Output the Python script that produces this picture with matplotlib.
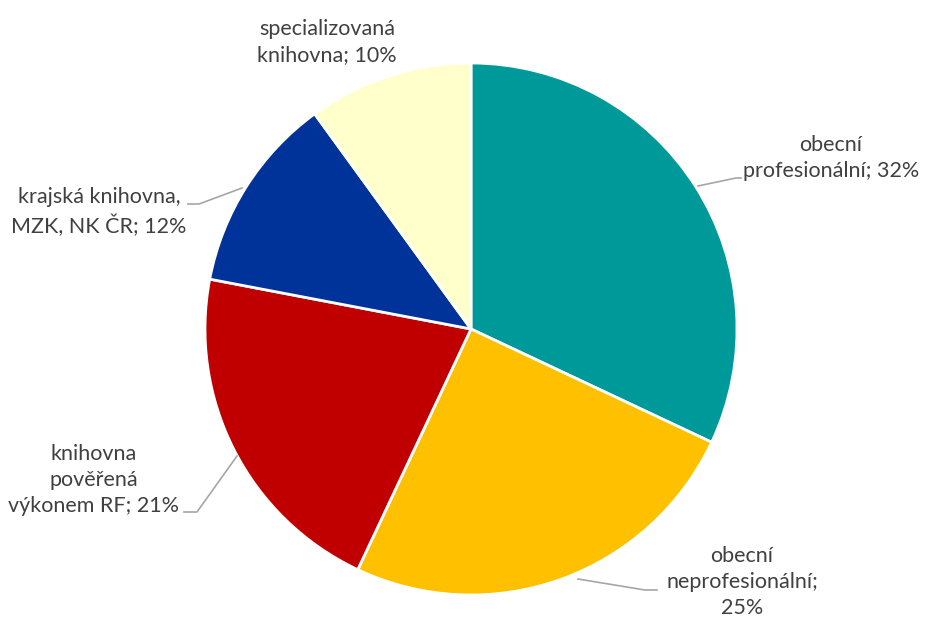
import matplotlib.pyplot as plt

labels = [
    "obecní\nprofesionální; 32%",
    "obecní\nneprofesionální;\n25%",
    "knihovna\npověřená\nvýkonem RF; 21%",
    "krajská knihovna,\nMZK, NK ČR; 12%",
    "specializovaná\nknihovna; 10%",
]
values = [32, 25, 21, 12, 10]
colors = ["#009999", "#FFC000", "#C00000", "#003399", "#FFFFCC"]

# label placement in pixel coords (y from top), and leader lines
label_pos = [(831, 158), (742, 582), (94, 480), (99, 212), (327, 42)]
leaders = [
    [(698, 186), (736, 178), (741, 178)],
    [(578, 579), (645, 590), (657, 590)],
    [(237, 456), (197, 512), (184, 512)],
    [(242, 188), (199, 204), (188, 204)],
    None,
]

W, H = 927, 622
fig = plt.figure(figsize=(W / 100, H / 100), dpi=100)
ax = fig.add_axes([0, 0, 1, 1])

cx, cy, r = 471, H - 329, 266
ax.pie(values, colors=colors, startangle=90, counterclock=False,
       center=(cx, cy), radius=r, frame=True,
       wedgeprops=dict(edgecolor="white", linewidth=2))
ax.set_xlim(0, W)
ax.set_ylim(0, H)
ax.set_aspect("equal")
ax.axis("off")

for lab, (px, py), ld in zip(labels, label_pos, leaders):
    ax.text(px, H - py, lab, ha="center", va="center", fontsize=15.5,
            family=["Lato", "DejaVu Sans"], color="#404040", linespacing=1.38)
    if ld:
        ax.plot([p[0] for p in ld], [H - p[1] for p in ld], color="#a6a6a6", lw=1.2)

fig.savefig("out.png", dpi=100)
